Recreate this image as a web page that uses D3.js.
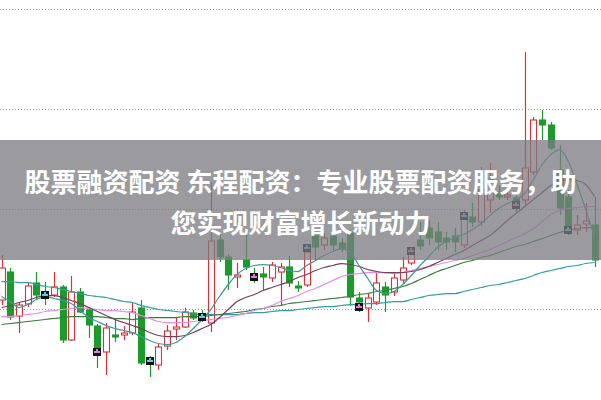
<!DOCTYPE html>
<html><head><meta charset="utf-8">
<script src="https://cdn.jsdelivr.net/npm/d3@7/dist/d3.min.js"></script>
<style>html,body{margin:0;padding:0;background:#fff;}svg{display:block;}</style>
</head><body>
<svg id="chart" width="601" height="400"></svg>
<script>
// ---- data (prices) ----
const openP  = [10.085,10.365,9.925,10.045,10.255,10.155,10.135,10.215,9.685,10.165,9.985,9.825,9.565,9.735,9.735,9.755,10.005,9.485,9.435,9.625,9.795,9.815,9.955,9.945,9.855,10.685,10.515,10.315,10.485,10.345,10.345,10.305,10.365,10.415,10.225,10.235,10.735,10.635,10.725,10.655,10.755,10.105,10.005,10.065,10.215,10.165,10.285,10.455,10.685,10.805,10.765,10.705,10.725,10.635,10.915,10.865,11.085,11.165,11.115,11.105,11.085,11.365,11.885,11.835,11.385,11.115,10.785,10.845,10.835];
const highP  = [10.535,10.405,10.065,10.255,10.365,10.265,10.365,10.235,10.325,10.205,10.015,9.845,9.855,9.905,9.825,10.065,10.085,9.525,9.655,9.835,9.905,10.005,9.985,9.985,11.265,10.745,10.545,10.455,10.735,10.405,10.415,10.465,10.455,10.525,10.275,10.635,10.765,10.755,10.755,10.705,10.785,10.165,10.155,10.365,10.265,10.355,10.515,10.605,10.865,10.885,10.865,10.765,10.805,10.985,11.055,11.415,11.455,11.235,11.185,11.165,12.565,11.915,11.985,11.865,11.635,11.185,10.935,11.055,11.115];
const lowP   = [10.035,9.885,9.755,10.015,10.085,10.035,10.115,9.655,9.675,9.955,9.705,9.405,9.335,9.665,9.685,9.735,9.435,9.315,9.385,9.585,9.685,9.805,9.885,9.865,9.765,10.465,10.185,10.205,10.385,10.255,10.185,10.265,10.035,10.215,10.165,10.215,10.485,10.585,10.565,10.565,10.025,9.965,9.865,10.035,9.965,10.125,10.255,10.435,10.585,10.635,10.585,10.585,10.565,10.605,10.815,10.825,10.955,11.085,11.085,10.965,11.035,11.335,11.685,11.585,10.935,10.735,10.735,10.765,10.415];
const closeP = [10.405,9.915,10.035,10.225,10.135,10.115,10.215,9.685,10.165,9.965,9.835,9.605,9.805,9.715,9.755,9.965,9.455,9.445,9.615,9.775,9.815,9.965,9.905,9.905,10.675,10.515,10.335,10.335,10.415,10.285,10.315,10.435,10.415,10.255,10.205,10.565,10.615,10.705,10.635,10.595,10.115,10.065,10.105,10.255,10.135,10.305,10.405,10.565,10.625,10.705,10.665,10.665,10.665,10.935,10.865,11.185,11.285,11.115,11.135,11.035,11.405,11.885,11.835,11.605,11.005,10.805,10.835,10.875,10.485];

const ma5  = [10.12,10.07,10.01,10.04,10.09,10.12,10.10,10.08,10.05,9.98,9.91,9.87,9.83,9.80,9.78,9.76,9.72,9.68,9.65,9.64,9.66,9.72,9.80,9.89,9.99,10.12,10.24,10.34,10.40,10.43,10.44,10.43,10.41,10.38,10.37,10.43,10.48,10.53,10.57,10.60,10.56,10.43,10.30,10.18,10.15,10.17,10.24,10.33,10.43,10.52,10.61,10.67,10.71,10.74,10.79,10.85,10.93,11.00,11.05,11.09,11.15,11.29,11.44,11.54,11.59,11.47,11.24,10.99,10.72];
const ma10 = [10.01,10.03,10.06,10.08,10.11,10.13,10.13,10.11,10.08,10.05,10.01,9.97,9.93,9.89,9.86,9.83,9.80,9.76,9.73,9.72,9.72,9.73,9.76,9.80,9.84,9.91,9.99,10.07,10.11,10.14,10.18,10.21,10.24,10.27,10.31,10.34,10.38,10.41,10.43,10.45,10.44,10.42,10.39,10.37,10.36,10.36,10.36,10.37,10.39,10.42,10.46,10.50,10.54,10.58,10.63,10.68,10.73,10.80,10.88,10.95,11.02,11.09,11.16,11.23,11.27,11.29,11.28,11.24,11.12];
const ma20 = [9.92,9.92,9.93,9.94,9.95,9.97,9.98,9.99,10.00,10.01,10.00,9.99,9.98,9.98,9.97,9.96,9.93,9.90,9.87,9.86,9.86,9.86,9.87,9.88,9.89,9.90,9.91,9.93,9.95,9.98,10.00,10.03,10.07,10.10,10.13,10.17,10.20,10.24,10.28,10.32,10.34,10.35,10.36,10.36,10.36,10.35,10.36,10.38,10.40,10.42,10.44,10.46,10.48,10.50,10.53,10.56,10.59,10.63,10.67,10.71,10.75,10.80,10.87,10.94,10.98,11.00,11.01,11.02,11.02];
const ma30 = [9.84,9.85,9.86,9.87,9.88,9.89,9.90,9.91,9.92,9.92,9.92,9.92,9.91,9.90,9.90,9.89,9.90,9.91,9.91,9.91,9.91,9.92,9.92,9.92,9.93,9.94,9.95,9.96,9.97,9.99,10.00,10.02,10.03,10.05,10.06,10.07,10.08,10.09,10.10,10.11,10.12,10.14,10.15,10.17,10.18,10.20,10.22,10.25,10.29,10.33,10.37,10.40,10.43,10.46,10.48,10.51,10.53,10.56,10.59,10.62,10.64,10.67,10.70,10.73,10.76,10.78,10.80,10.81,10.81];
const ma60 = [10.27,10.27,10.26,10.26,10.24,10.22,10.21,10.19,10.17,10.15,10.13,10.12,10.11,10.09,10.07,10.06,10.03,10.01,9.99,9.98,9.97,9.96,9.95,9.94,9.94,9.94,9.94,9.94,9.95,9.96,9.96,9.97,9.98,9.98,9.99,10.00,10.01,10.02,10.02,10.03,10.04,10.04,10.05,10.05,10.06,10.07,10.07,10.09,10.11,10.13,10.14,10.15,10.15,10.17,10.19,10.21,10.23,10.24,10.26,10.28,10.30,10.33,10.36,10.38,10.40,10.42,10.43,10.45,10.46];

const markerIdx   = [5,11,17,23,29,35,41,47,53,59,65];
const markerPrice = [10.135,9.565,9.475,9.915,10.315,10.605,10.015,10.575,10.925,11.035,10.785];
const markerKind  = ["c","p","c","c","p","c","p","p","c","p","c"];

const gridPrices = [13,12,11,10];
const titleLines = ["股票融资配资 东程配资：专业股票配资服务，助","您实现财富增长新动力"];

// ---- build ----
const W = 601, H = 400;
const svg = d3.select("#chart");
const n = closeP.length;
const candles = d3.range(n).map(i => ({i, o: openP[i], h: highP[i], l: lowP[i], c: closeP[i]}));

const x = d3.scaleLinear().domain([0, n - 1]).range([1.5, 594.5]);
const y = d3.scaleLinear().domain([10, 13]).range([308.5, 8.5]);

const RED = "#d6323b", GREEN = "#1c9a2c";

// grid
svg.append("g").selectAll("line").data(gridPrices).join("line")
  .attr("x1", 0).attr("x2", W)
  .attr("y1", d => Math.round(y(d)) + 0.5).attr("y2", d => Math.round(y(d)) + 0.5)
  .attr("stroke", "#9a9a9a").attr("stroke-width", 1).attr("stroke-dasharray", "1,2");

// candles
const cg = svg.append("g");
const bw = 6;
const cx = d => Math.round(x(d.i)) + 0.5;
cg.selectAll("line.wick").data(candles).join("line").attr("class","wick")
  .attr("x1", cx).attr("x2", cx)
  .attr("y1", d => y(d.h)).attr("y2", d => y(d.l))
  .attr("stroke", d => d.c >= d.o ? RED : GREEN).attr("stroke-width", 1.2);
cg.selectAll("rect.body").data(candles).join("rect").attr("class","body")
  .attr("x", d => cx(d) - bw/2)
  .attr("y", d => y(Math.max(d.o, d.c)))
  .attr("width", bw)
  .attr("height", d => Math.max(1, Math.abs(y(d.o) - y(d.c))))
  .attr("fill", d => d.c >= d.o ? "#fff" : GREEN)
  .attr("stroke", d => d.c >= d.o ? RED : GREEN).attr("stroke-width", 1.1);

// moving averages
const mas = [
  {v: ma60, color: "#2f9ea6"},
  {v: ma30, color: "#3a7d3a"},
  {v: ma20, color: "#e48ee4"},
  {v: ma10, color: "#74405f"},
  {v: ma5,  color: "#3f9aa0"}
];
const line = d3.line().x((d, i) => x(i)).y(d => y(d)).curve(d3.curveMonotoneX);
svg.append("g").selectAll("path").data(mas).join("path")
  .attr("d", d => line(d.v)).attr("fill", "none")
  .attr("stroke", d => d.color).attr("stroke-width", 1.25);

// markers
const mg = svg.append("g");
markerIdx.forEach((mi, k) => {
  const mx = Math.round(x(mi)), my = Math.round(y(markerPrice[k]));
  const col = markerKind[k] === "p" ? "#e47ad8" : "#56cfe0";
  mg.append("rect").attr("x", mx - 4).attr("y", my - 4).attr("width", 8).attr("height", 8).attr("fill", "#111");
  mg.append("rect").attr("x", mx - 3).attr("y", my - 1).attr("width", 6).attr("height", 2).attr("fill", col);
  mg.append("rect").attr("x", mx - 1).attr("y", my - 3).attr("width", 2).attr("height", 2).attr("fill", col);
});

// banner overlay
svg.append("rect").attr("x", 0).attr("y", 140).attr("width", W).attr("height", 120)
  .attr("fill", "#7b7c81").attr("opacity", 0.76);
svg.append("g").selectAll("text").data(titleLines).join("text")
  .attr("x", 300.5).attr("y", (d, i) => 180 + i * 41)
  .attr("text-anchor", "middle").attr("dominant-baseline", "central")
  .attr("font-family", "'Noto Sans CJK SC', 'Noto Sans', sans-serif")
  .attr("font-weight", 700).attr("font-size", 26).attr("fill", "#fff")
  .text(d => d);
</script>
</body></html>
